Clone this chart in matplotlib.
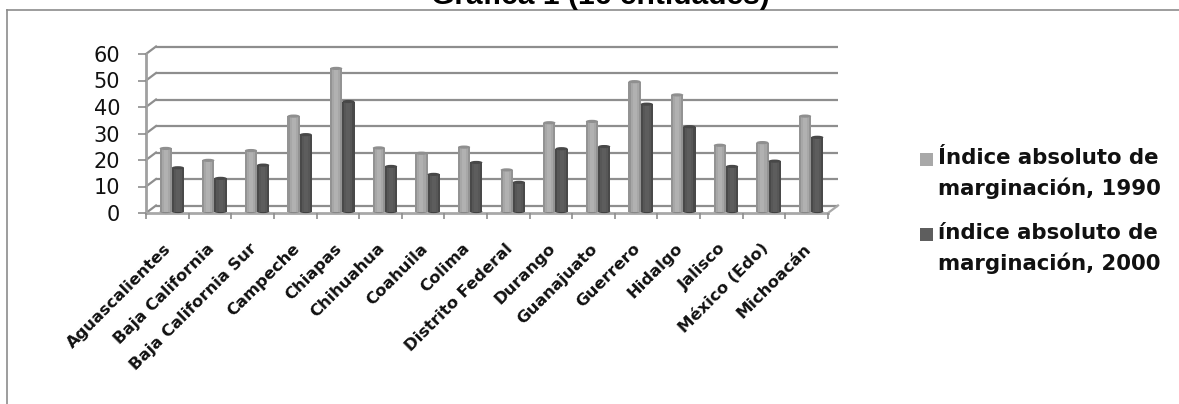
import matplotlib
matplotlib.use('Agg')
import matplotlib.pyplot as plt
from matplotlib.patches import Ellipse, Rectangle
from matplotlib.transforms import Affine2D
from matplotlib.colors import to_rgb
import numpy as np

entidades = ['Aguascalientes', 'Baja California', 'Baja California Sur', 'Campeche',
             'Chiapas', 'Chihuahua', 'Coahuila', 'Colima', 'Distrito Federal', 'Durango',
             'Guanajuato', 'Guerrero', 'Hidalgo', 'Jalisco', 'México (Edo)', 'Michoacán']
indice_1990 = [23.8, 19.3, 23.0, 36.0, 54.0, 24.0, 22.0, 24.3, 15.7, 33.5, 34.0, 49.0, 44.0, 25.0, 26.0, 36.0]
indice_2000 = [16.5, 12.5, 17.5, 29.0, 41.5, 17.0, 14.0, 18.5, 11.0, 23.7, 24.5, 40.5, 32.0, 17.0, 19.0, 28.0]
yticks = [0, 10, 20, 30, 40, 50, 60]

W, H = 1179, 404
plt.rcParams['font.family'] = ['DejaVu Sans']
fig = plt.figure(figsize=(W / 100, H / 100), dpi=100)

# front plane of the fake 3d box, in pixels
x0, x1 = 146, 828
y0, y1 = 213, 54
ax = fig.add_axes([x0 / W, 1 - y0 / H, (x1 - x0) / W, (y0 - y1) / H])
n = len(entidades)
ax.set_xlim(0, n)
ax.set_ylim(0, 60)
ax.patch.set_visible(False)
for s in ax.spines.values():
    s.set_visible(False)

GRID = '#8e8e8e'
LW = 1.6
DX, DY = 10, 7.5
back = ax.transData + Affine2D().translate(DX, DY)
bars = ax.transData + Affine2D().translate(4.5, 1.5)
px_x = n / (x1 - x0)
px_y = 60 / (y0 - y1)

# back wall, floor and left wall
for v in yticks:
    ax.plot([0, n], [v, v], color=GRID, lw=LW, transform=back, solid_capstyle='butt', clip_on=False, zorder=1)
    ax.plot([0, DX * px_x], [v, v + DY * px_y], color=GRID, lw=LW, clip_on=False, zorder=1)
ax.plot([n, n + DX * px_x], [0, DY * px_y], color='#a8a8a8', lw=LW, clip_on=False, zorder=1)
ax.plot([0, 0], [0, 60], color='#a0a0a0', lw=2, clip_on=False, zorder=1)
ax.plot([0, n], [0, 0], color='#a8a8a8', lw=2, clip_on=False, zorder=1)

ax.set_xticks(range(n + 1))
ax.set_xticklabels([])
ax.set_yticks(yticks)
ax.set_yticklabels([str(v) for v in yticks], fontsize=15, color='#111111')
ax.tick_params(axis='y', length=5.5, width=1.2, color=GRID, pad=13)
ax.tick_params(axis='x', length=4.5, width=1.2, color=GRID)

# rotated category labels anchored at each category centre
for i, name in enumerate(entidades):
    ax.annotate(name, (i + 0.5, 0), xytext=(-2.5, -20), textcoords='offset points',
                rotation=45, rotation_mode='anchor', ha='right', va='top',
                fontsize=11.8, fontweight='bold', color='#111111', annotation_clip=False)


def cylinder(x, w, v, edge, mid, hi):
    # vertical strips give the rounded shading of each column
    strips = 6
    sw = w / strips
    for k in range(strips):
        t = (abs((k + 0.5) / strips - 0.5) * 2) ** 2
        c = np.array(to_rgb(hi)) * (1 - t) + np.array(to_rgb(edge)) * t
        wid = sw * 1.3 if k < strips - 1 else sw
        ax.bar(x + k * sw, v, width=wid, align='edge', color=c, lw=0, transform=bars, zorder=3, clip_on=False)
    ry = 3.2 * px_y
    ax.add_patch(Ellipse((x + w / 2, v), w, ry, color=mid, lw=0, transform=bars, zorder=4, clip_on=False))
    ax.add_patch(Ellipse((x + w / 2, 0), w, ry, color=edge, lw=0, transform=bars, zorder=2, clip_on=False))


bw = 12.2 * px_x
for i in range(n):
    c = i + 0.5
    cylinder(c - bw, bw, indice_1990[i], '#868686', '#8f8f8f', '#b2b2b2')
    cylinder(c, bw, indice_2000[i], '#404040', '#484848', '#5e5e5e')

# outer chart frame, open to the right and bottom
fig.add_artist(plt.Line2D([7.5 / W, 7.5 / W], [0, 1 - 10 / H], color='#8c8c8c', lw=1.2))
fig.add_artist(plt.Line2D([7.5 / W, 1], [1 - 10 / H, 1 - 10 / H], color='#8c8c8c', lw=1.2))

# title sits partly off the top edge
fig.text(600 / W, 1 - 4.5 / H, 'Gráfica 1 (16 entidades)', ha='center', va='baseline',
         fontsize=21.6, fontweight='bold', family='Liberation Sans', color='black')

# legend
for (ty, col, l1, l2) in [(158, '#a8a8a8', 'Índice absoluto de', 'marginación, 1990'),
                          (233, '#5e5e5e', 'índice absoluto de', 'marginación, 2000')]:
    fig.add_artist(Rectangle((920 / W, 1 - (ty + 8) / H), 13 / W, 13 / H, color=col, lw=0,
                             transform=fig.transFigure))
    fig.text(938 / W, 1 - ty / H, l1, va='center', ha='left', fontsize=15.3, fontweight='bold', color='#111111')
    fig.text(938 / W, 1 - (ty + 30) / H, l2, va='center', ha='left', fontsize=15.3, fontweight='bold', color='#111111')

fig.savefig('out.png', dpi=100, facecolor='white')
